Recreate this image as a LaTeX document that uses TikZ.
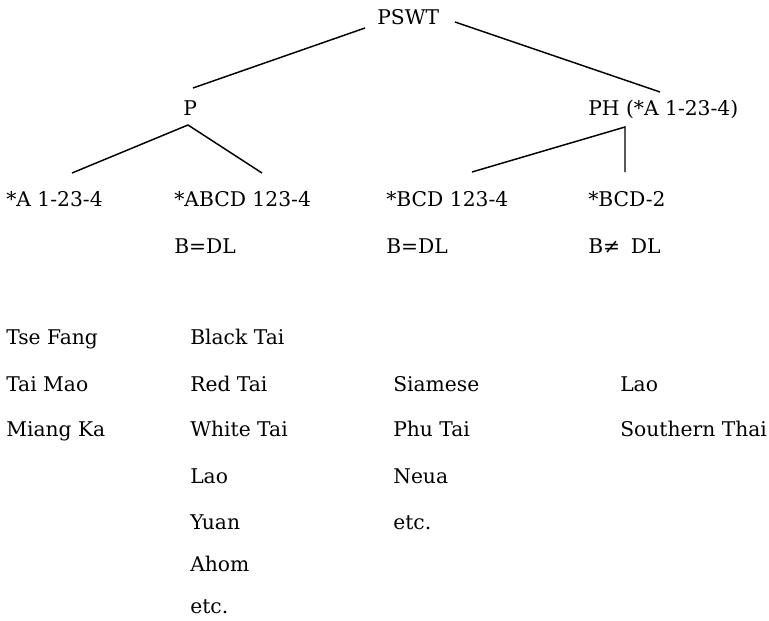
\documentclass[tikz,border=0pt]{standalone}
\usepackage{fontspec}
\setmainfont{DejaVu Serif}
\begin{document}
\begin{tikzpicture}[x=0.75pt,y=-0.75pt,
  lbl/.style={anchor=base west,inner sep=0pt,font=\fontsize{15.2}{17}\selectfont},
  branch/.style={line width=1.1pt}]
\useasboundingbox (0,0) rectangle (769,621);
% tree labels
\node[lbl] (pswt) at (377,24) {PSWT};
\node[lbl] (p) at (183,115) {P};
\node[lbl] (ph) at (588,115) {PH (*A 1-23-4)};
\node[lbl] (a1) at (6,206) {*A 1-23-4};
\node[lbl] (abcd) at (174,206) {*ABCD 123-4};
\node[lbl] (bcd) at (386,206) {*BCD 123-4};
\node[lbl] (bcd2) at (588,206) {*BCD-2};
\node[lbl] (bdl1) at (174,253) {B=DL};
\node[lbl] (bdl2) at (386,253) {B=DL};
\node[lbl] (bdl3) at (588,253) {B≠\hspace{8pt}DL};
% languages
\node[lbl] (tf) at (6,344) {Tse Fang};
\node[lbl] (tm) at (6,391) {Tai Mao};
\node[lbl] (mk) at (6,436) {Miang Ka};
\node[lbl] (bt) at (190,344) {Black Tai};
\node[lbl] (rt) at (190,391) {Red Tai};
\node[lbl] (wt) at (190,436) {White Tai};
\node[lbl] (lao1) at (190,483) {Lao};
\node[lbl] (yu) at (190,529) {Yuan};
\node[lbl] (ah) at (190,571) {Ahom};
\node[lbl] (etc1) at (190,613) {etc.};
\node[lbl] (si) at (393,391) {Siamese};
\node[lbl] (pt) at (393,436) {Phu Tai};
\node[lbl] (ne) at (393,483) {Neua};
\node[lbl] (etc2) at (393,529) {etc.};
\node[lbl] (lao2) at (620,391) {Lao};
\node[lbl] (st) at (620,436) {Southern Thai};
% connector end points
\coordinate (pswtL) at (365,28);
\coordinate (pswtR) at (455,22);
\coordinate (pT) at (193,88);
\coordinate (pB) at (188,125);
\coordinate (phT) at (660,92);
\coordinate (phB) at (625,127);
\coordinate (a1T) at (72,173);
\coordinate (abcdT) at (262,173);
\coordinate (bcdT) at (472,172);
\coordinate (bcd2T) at (625,172);
\draw[branch] (pswtL) -- (pT);
\draw[branch] (pswtR) -- (phT);
\draw[branch] (a1T) -- (pB) -- (abcdT);
\draw[branch] (bcdT) -- (phB) -- (bcd2T);
\end{tikzpicture}
\end{document}
